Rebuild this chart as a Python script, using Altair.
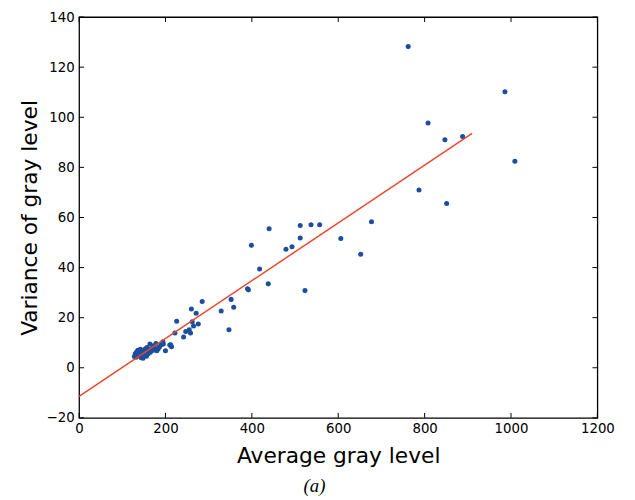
import altair as alt
import pandas as pd

# scatter values (average gray level, variance of gray level)
avg_gray = [
    762, 986, 1009, 808, 888, 847, 787, 851, 677, 557, 537, 512, 440, 606, 512, 493, 479,
    399, 652, 418, 523, 438, 390,
    392, 352, 358, 347, 329, 285, 260, 271, 262, 276, 265, 226, 222, 247, 255, 258, 242,
    194, 212, 214, 164, 195, 210, 180, 200,
    128, 130, 132, 133, 135, 136, 138, 140, 141, 142, 144, 145, 147, 148, 150, 151, 153,
    154, 156, 157, 159, 160, 162, 165, 167, 170, 172, 175, 178, 183, 186, 190,
]
var_gray = [
    128.2, 110.2, 82.4, 97.7, 92.3, 91.0, 71.0, 65.6, 58.3, 57.1, 57.1, 56.8, 55.5, 51.6,
    51.8, 48.3, 47.3, 48.9, 45.3, 39.4, 30.8, 33.5, 31.5,
    31.1, 27.3, 24.2, 15.2, 22.7, 26.5, 23.5, 21.8, 18.4, 17.5, 16.7, 18.6, 13.9, 14.5,
    15.2, 13.9, 12.3,
    10.4, 9.2, 8.4, 9.5, 9.5, 9.1, 6.8, 6.8,
    4.5, 5.6, 4.2, 6.3, 5.1, 7.0, 4.8, 6.1, 5.3, 7.4, 4.0, 6.6, 5.8, 3.8, 6.9, 5.0, 7.5,
    6.1, 4.6, 8.1, 6.5, 5.6, 7.1, 6.2, 7.6, 6.9, 8.8, 7.9, 9.7, 7.5, 8.3, 9.2,
]

# fitted line end points
fit_x = [0, 910]
fit_y = [-11.4, 93.6]

x_ticks = [0, 200, 400, 600, 800, 1000, 1200]
y_ticks = [-20, 0, 20, 40, 60, 80, 100, 120, 140]

W, H = 525, 406
FONT = "DejaVu Sans"

pts = pd.DataFrame({"x": avg_gray, "y": var_gray})
fit = pd.DataFrame({"x": fit_x, "y": fit_y})
xt = pd.DataFrame({"v": x_ticks})
yt = pd.DataFrame({"v": y_ticks})

xscale = alt.Scale(domain=[0, 1200], nice=False, zero=False)
yscale = alt.Scale(domain=[-20, 140], nice=False, zero=False)

xaxis = alt.Axis(values=x_ticks, format="d", ticks=False, domain=False, grid=False,
                 labelFont=FONT, labelFontSize=13.5, labelColor="black", labelPadding=4,
                 labelFlush=False, title="Average gray level", titleFont=FONT,
                 titleFontSize=22, titleFontWeight="normal", titleColor="black",
                 titlePadding=11)
yaxis = alt.Axis(values=y_ticks, format="d", ticks=False, domain=False, grid=False,
                 labelFont=FONT, labelFontSize=13.5, labelColor="black", labelPadding=5,
                 labelFlush=False, title="Variance of gray level", titleFont=FONT,
                 titleFontSize=22, titleFontWeight="normal", titleColor="black",
                 titlePadding=5)

points = alt.Chart(pts).mark_circle(size=26, color="#1b4f9e", opacity=1).encode(
    x=alt.X("x:Q", scale=xscale, axis=xaxis),
    y=alt.Y("y:Q", scale=yscale, axis=yaxis),
)

line = alt.Chart(fit).mark_line(color="#e8482c", strokeWidth=1.5).encode(
    x=alt.X("x:Q", scale=xscale), y=alt.Y("y:Q", scale=yscale)
)

tick_style = dict(color="black", strokeWidth=1)
bottom_ticks = alt.Chart(xt).mark_rule(**tick_style).encode(
    x=alt.X("v:Q", scale=xscale), y=alt.value(H), y2=alt.value(H - 5))
top_ticks = alt.Chart(xt).mark_rule(**tick_style).encode(
    x=alt.X("v:Q", scale=xscale), y=alt.value(0), y2=alt.value(5))
left_ticks = alt.Chart(yt).mark_rule(**tick_style).encode(
    y=alt.Y("v:Q", scale=yscale), x=alt.value(0), x2=alt.value(5))
right_ticks = alt.Chart(yt).mark_rule(**tick_style).encode(
    y=alt.Y("v:Q", scale=yscale), x=alt.value(W), x2=alt.value(W - 5))

chart = alt.layer(points, line, bottom_ticks, top_ticks, left_ticks, right_ticks).properties(
    width=W, height=H,
    title=alt.TitleParams("(a)", orient="bottom", font="Liberation Serif", fontStyle="italic",
                          fontWeight="normal", fontSize=19, color="black", offset=11,
                          dx=-24),
    autosize=alt.AutoSizeParams(type="none"),
    padding={"left": 72, "top": 6, "right": 30, "bottom": 80},
).configure(background="white").configure_view(stroke="black", strokeWidth=1.3)

chart.save("out.html", embed_options={"renderer": "svg", "actions": False})
